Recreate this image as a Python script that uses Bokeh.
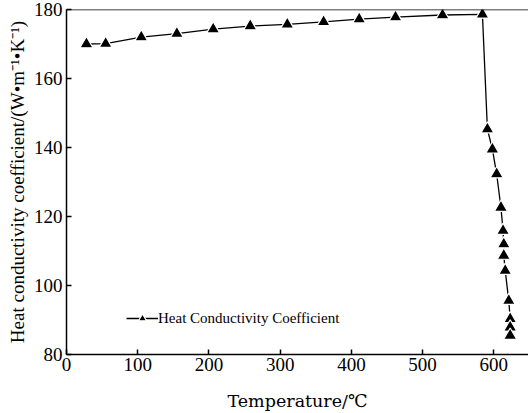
from bokeh.plotting import figure
from bokeh.models import Range1d, Span, Legend, LegendItem, ColumnDataSource, FixedTicker
from bokeh.embed import file_html
from bokeh.resources import INLINE

temperature = [28, 55, 105, 155, 206, 258, 310, 361, 411, 462, 528, 584,
               591, 598, 604, 610, 613, 614, 614, 616, 621, 623, 623, 623]
conductivity = [170.0, 170.1, 172.0, 173.0, 174.3, 175.2, 175.7, 176.4, 177.2, 177.8, 178.4, 178.6,
                145.3, 139.5, 132.3, 122.6, 115.9, 112.0, 108.7, 104.3, 95.6, 90.3, 87.9, 85.5]
x_ticks = [0, 100, 200, 300, 400, 500, 600]
y_ticks = [80, 100, 120, 140, 160, 180]

src = ColumnDataSource(dict(x=temperature, y=conductivity))

p = figure(width=528, height=413, output_backend="svg", toolbar_location=None,
           x_range=Range1d(0, 648.7), y_range=Range1d(80, 180),
           min_border_left=66, min_border_right=0, min_border_top=9, min_border_bottom=59)
p.outline_line_color = None
p.xgrid.visible = False
p.ygrid.visible = False
p.background_fill_color = "white"
p.border_fill_color = "white"

r_line = p.line("x", "y", source=src, line_color="black", line_width=1.3)
r_mark = p.scatter("x", "y", source=src, marker="triangle", size=13,
                   fill_color="black", line_color="white", line_width=1.2)

p.add_layout(Span(location=180, dimension="width", line_color="black", line_width=1.5))

for ax in (p.xaxis[0], p.yaxis[0]):
    ax.axis_line_width = 1.5
    ax.axis_line_color = "black"
    ax.major_tick_in = 5
    ax.major_tick_out = 0
    ax.major_tick_line_width = 1.5
    ax.minor_tick_line_color = None
    ax.major_label_text_font = "Liberation Serif"
    ax.major_label_text_font_size = "19px"
    ax.major_label_text_color = "black"
    ax.axis_label_text_font_style = "normal"
    ax.axis_label_text_color = "black"

p.xaxis.ticker = FixedTicker(ticks=x_ticks)
p.yaxis.ticker = FixedTicker(ticks=y_ticks)
p.xaxis.major_label_standoff = 3
p.yaxis.major_label_standoff = 4

p.xaxis.axis_label = "Temperature/\u2103"
p.xaxis.axis_label_text_font = "DejaVu Serif"
p.xaxis.axis_label_text_font_size = "17.5px"
p.xaxis.axis_label_standoff = 17

p.yaxis.axis_label = "Heat conductivity coefficient/(W\u2022m\u207b\u00b9\u2022K\u207b\u00b9)"
p.yaxis.axis_label_text_font = "Liberation Serif"
p.yaxis.axis_label_text_font_size = "19px"
p.yaxis.axis_label_standoff = 3

legend = Legend(items=[LegendItem(label="Heat Conductivity Coefficient", renderers=[r_line, r_mark])],
                location=(60, 26), border_line_color=None, background_fill_alpha=0,
                label_text_font="Liberation Serif", label_text_font_size="15px",
                label_text_color="black",
                glyph_width=32, glyph_height=20, padding=0, margin=0, label_standoff=0)
p.add_layout(legend)

open("out.html", "w").write(file_html(p, INLINE))
